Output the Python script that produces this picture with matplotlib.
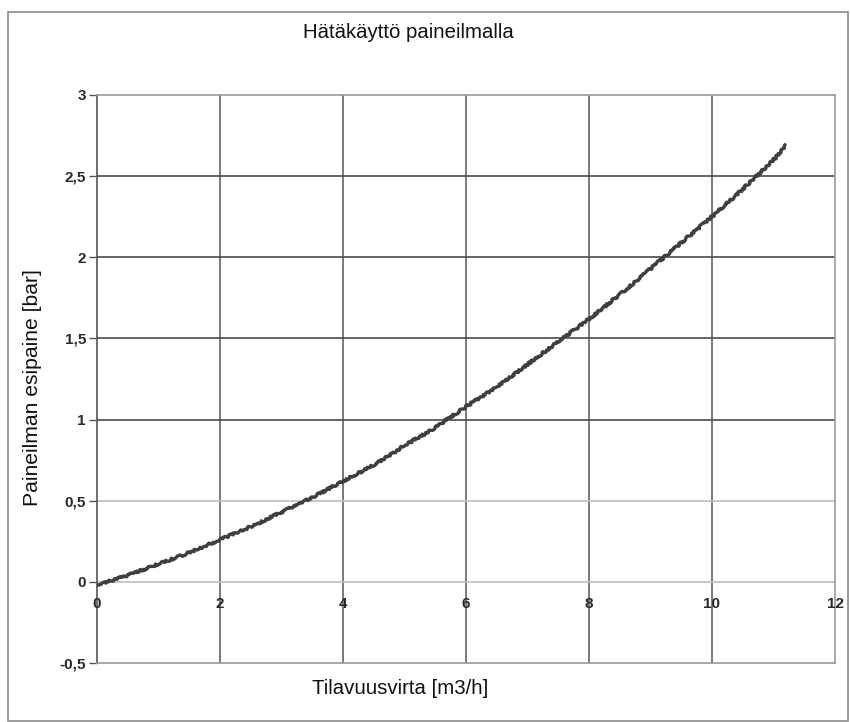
import matplotlib

matplotlib.use("Agg")
import matplotlib.pyplot as plt  # noqa: E402
from matplotlib.patches import Rectangle  # noqa: E402

# flow rate [m3/h] vs. compressed-air supply pressure [bar]
flow = [0, 0.5, 1, 1.5, 2, 2.5, 3, 3.5, 4, 4.5, 5, 5.5, 6, 6.5, 7, 7.5,
        8, 8.5, 9, 9.5, 10, 10.5, 11, 11.2]
pressure = [-0.02, 0.04, 0.11, 0.18, 0.26, 0.34, 0.43, 0.52, 0.62, 0.72,
            0.84, 0.95, 1.08, 1.20, 1.34, 1.48, 1.62, 1.77, 1.93, 2.09,
            2.25, 2.42, 2.60, 2.69]

x_ticks = [0, 2, 4, 6, 8, 10, 12]
y_ticks = [-0.5, 0, 0.5, 1, 1.5, 2, 2.5, 3]
y_labels = ["-0,5", "0", "0,5", "1", "1,5", "2", "2,5", "3"]

title = "Hätäkäyttö paineilmalla"
x_label = "Tilavuusvirta [m3/h]"
y_label = "Paineilman esipaine [bar]"

font = "Liberation Sans"
tick_color = "#2a2a2a"

fig = plt.figure(figsize=(8.5, 7.22), dpi=100)
fig.patches.append(Rectangle((8 / 850, 1 / 722), 840 / 850, 709 / 722,
                             transform=fig.transFigure, fill=False,
                             edgecolor="#8a8a8a", linewidth=1.2))

ax = fig.add_axes([97 / 850, 59 / 722, 738 / 850, 568 / 722])
ax.set_xlim(0, 12)
ax.set_ylim(-0.5, 3)

# grid: dark lines, except the two lowest horizontals which are lighter
for x in x_ticks[1:-1]:
    ax.axvline(x, color="#555555", linewidth=1.1, zorder=1)
for y in y_ticks[1:-1]:
    c = "#bdbdbd" if y in (0, 0.5) else "#4a4a4a"
    ax.axhline(y, color=c, linewidth=1.2, zorder=1)

for s in ax.spines.values():
    s.set_color("#9a9a9a")
    s.set_linewidth(1.2)
ax.spines["left"].set_color("#555555")

ax.set_yticks(y_ticks)
ax.set_yticklabels(y_labels)
ax.tick_params(axis="y", length=6, width=1, color="#555555", pad=2,
               labelsize=11)
for t in ax.get_yticklabels():
    t.set_fontweight("bold")
    t.set_family(font)
    t.set_color(tick_color)
ax.set_xticks([])

# x tick labels sit on the zero line
for x in x_ticks:
    ax.annotate(str(x), (x, 0), xytext=(0, -16), textcoords="offset points",
                ha="center", va="center", fontsize=11, fontweight="bold",
                family=font, color=tick_color, annotation_clip=False)

line, = ax.plot(flow, pressure, color="#3f3f3f", linewidth=2.4,
                solid_capstyle="round", zorder=3)
line.set_sketch_params(scale=1.1, length=4, randomness=8)

fig.text(408 / 850, 1 - 32 / 722, title, ha="center", va="center",
         fontsize=14.7, family=font, color="#111111")
fig.text(400 / 850, 1 - 688 / 722, x_label, ha="center", va="center",
         fontsize=14.7, family=font, color="#111111")
fig.text(33 / 850, 1 - 388 / 722, y_label, ha="center", va="center",
         rotation=90, fontsize=15.2, family=font, color="#111111")

fig.savefig("out.png", dpi=100)
plt.close(fig)
